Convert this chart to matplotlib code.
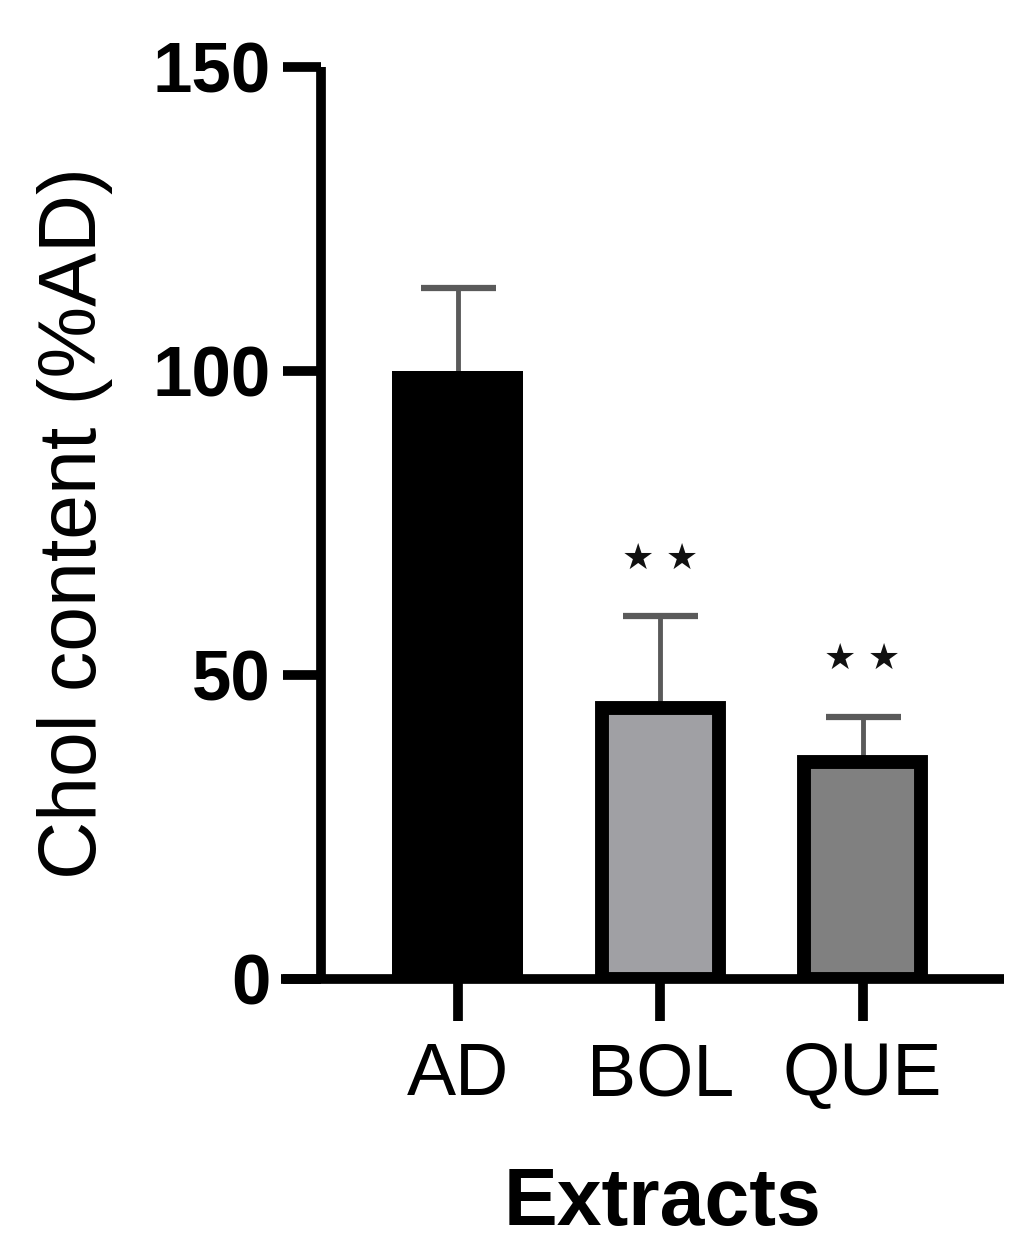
import matplotlib
matplotlib.use("Agg")
import matplotlib.pyplot as plt
import numpy as np

# data
groups = ['AD', 'BOL', 'QUE']
chol = [100.0, 44.6, 35.6]
sd_up = [13.6, 15.0, 7.5]
signif = ['', '★ ★', '★ ★']
fills = ['#000000', '#a0a0a4', '#808080']
yticks = [0, 50, 100, 150]

plt.rcParams['font.family'] = ['Liberation Sans', 'DejaVu Sans']

fig = plt.figure(figsize=(10.36, 12.55), dpi=100)
ax = fig.add_axes([0.3098, 0.2203, 0.9691 - 0.3098, 0.9466 - 0.2203])

x = np.arange(len(groups))
eb = ax.errorbar(x, chol, yerr=[np.zeros(len(chol)), sd_up], fmt='none',
                 ecolor='#5a5a5a', elinewidth=3.5, capsize=27, capthick=4.5, zorder=0.5)
# only the upper cap is shown
eb[1][0].set_visible(False)

# AD is solid black, the others are outlined; outer widths match
ax.bar(x, chol, width=[0.647, 0.578, 0.578], color=fills, edgecolor='black',
       linewidth=[0, 10, 10], zorder=1)

for xi, top, s in zip(x, np.array(chol) + np.array(sd_up), signif):
    if s:
        ax.text(xi, top + 9.5, s, ha='center', va='center', fontsize=26,
                family='DejaVu Sans', color='#111111')

ax.set_xlim(-0.677, 2.699)
ax.set_ylim(0, 150)
ax.set_yticks(yticks)
ax.set_xticks(x)
ax.set_xticklabels(groups)

for side in ['top', 'right']:
    ax.spines[side].set_visible(False)
for side in ['left', 'bottom']:
    ax.spines[side].set_linewidth(7)
    ax.spines[side].set_capstyle('butt')

# x axis line runs on past the y axis, GraphPad style
ax.plot([-0.0586, 0], [0, 0], transform=ax.transAxes, color='black', lw=7,
        solid_capstyle='butt', clip_on=False, zorder=3)

ax.tick_params(axis='y', length=27.5, width=7, pad=9, labelsize=51)
ax.tick_params(axis='x', length=30, width=7, pad=15, labelsize=53)
for lab in ax.get_yticklabels():
    lab.set_fontweight('bold')

ax.set_ylabel('Chol content (%AD)', fontsize=58, labelpad=28)
ax.set_xlabel('Extracts', fontsize=58, fontweight='bold', labelpad=40)

fig.savefig('out.png', dpi=100)
